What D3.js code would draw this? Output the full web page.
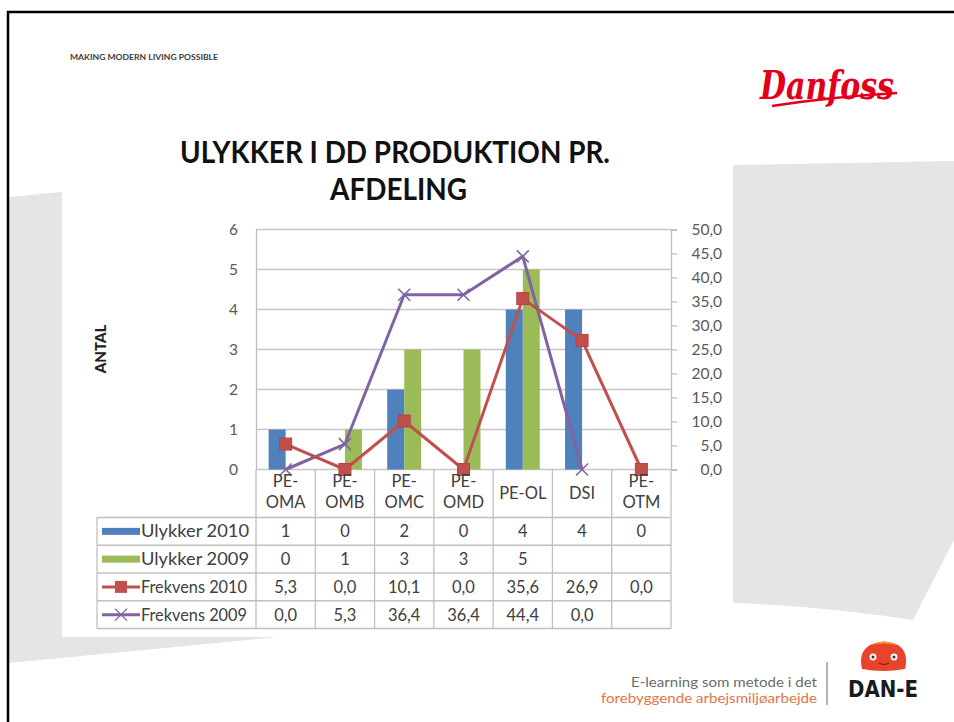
<!DOCTYPE html>
<html lang="da">
<head>
  <meta charset="UTF-8">
  <title>Ulykker i DD produktion pr. afdeling</title>
  <script src="https://d3js.org/d3.v7.min.js"></script>
  <style>
    body{margin:0;background:#fff}
    svg{display:block}
    .tbl{font-family:Lato,"Open Sans",sans-serif;fill:#404040}
    .grid{stroke:#c6c6c6;stroke-width:1.3}
    .cell{stroke:#c0c0c0;stroke-width:1.3}
  </style>
</head>
<body>
<div id="chart"></div>
<script>
/* --- data --- */
const categories=["PE-OMA","PE-OMB","PE-OMC","PE-OMD","PE-OL","DSI","PE-OTM"];
const ulykker2010=[1,0,2,0,4,4,0];
const ulykker2009=[0,1,3,3,5,null,null];
const frekvens2010=[5.3,0.0,10.1,0.0,35.6,26.9,0.0];
const frekvens2009=[0.0,5.3,36.4,36.4,44.4,0.0,null];
const leftTicks=[0,1,2,3,4,5,6];
const rightTicks=[0,5,10,15,20,25,30,35,40,45,50];
const seriesNames=["Ulykker 2010","Ulykker 2009","Frekvens 2010","Frekvens 2009"];

const W=954,H=722;
const col={blue:"#4f81bd",green:"#9bbb59",red:"#c0504d",purple:"#8064a2"};
const comma=v=>v.toFixed(1).replace(".",",");

const svg=d3.select("#chart").append("svg").attr("width",W).attr("height",H);

/* --- slide background --- */
svg.append("path").attr("fill","#e6e5e6")
   .attr("d","M9,197 L62,192 L62,637 L278,637 L9,663 Z");
svg.append("path").attr("fill","#e6e5e6")
   .attr("d","M733,165 L954,161 L954,540 L913,620 Q820,606 733,603 Z");
svg.append("path").attr("fill","none").attr("stroke","#000").attr("stroke-width",2.5)
   .attr("d","M8,722 L8,12 L954,12");

svg.append("text").attr("x",70).attr("y",60)
   .attr("font-family","Lato,sans-serif").attr("font-size",7.6).attr("font-weight",700)
   .attr("fill","#3a3a3a").attr("textLength",148).attr("lengthAdjust","spacingAndGlyphs")
   .text("MAKING MODERN LIVING POSSIBLE");

/* --- Danfoss logo --- */
const logo=svg.append("g");
logo.append("path").attr("fill","none").attr("stroke","#e2001a").attr("stroke-width",2.5)
    .attr("d","M772,106 Q830,97 897,93");
logo.append("text").attr("x",760).attr("y",99)
    .attr("font-family","'DejaVu Serif',serif").attr("font-style","italic").attr("font-weight",700)
    .attr("font-size",40).attr("fill","#e2001a")
    .attr("textLength",134).attr("lengthAdjust","spacingAndGlyphs").text("Danfoss");

/* --- title --- */
const title=svg.append("g").attr("font-family","Lato,sans-serif").attr("font-weight",700)
               .attr("font-size",31).attr("fill","#111");
title.append("text").attr("x",180).attr("y",163)
     .attr("textLength",430).attr("lengthAdjust","spacingAndGlyphs")
     .text("ULYKKER I DD PRODUKTION PR.");
title.append("text").attr("x",330).attr("y",200)
     .attr("textLength",137).attr("lengthAdjust","spacingAndGlyphs")
     .text("AFDELING");

/* --- scales --- */
const pL=256,pR=671,pT=229.5,pB=469.5;
const x=d3.scaleBand().domain(categories).range([pL,pR]);
const bw=x.bandwidth();
const xs=d3.scaleBand().domain(["2010","2009"]).range([bw/2-17,bw/2+17]);
const y=d3.scaleLinear().domain([0,6]).range([pB,pT]);
const y2=d3.scaleLinear().domain([0,50]).range([pB,pT]);
const cx=c=>x(c)+bw/2;

/* --- gridlines and axes --- */
svg.append("g").selectAll("line").data(leftTicks).join("line").attr("class","grid")
   .attr("x1",pL).attr("x2",pR).attr("y1",d=>y(d)).attr("y2",d=>y(d));

const yAxis=svg.append("g").attr("transform",`translate(${pL},0)`)
   .call(d3.axisLeft(y).tickValues(leftTicks).tickSize(0).tickPadding(18).tickFormat(d3.format("d")));
const y2Axis=svg.append("g").attr("transform",`translate(${pR},0)`)
   .call(d3.axisRight(y2).tickValues(rightTicks).tickSize(6).tickPadding(45).tickFormat(comma));
[yAxis,y2Axis].forEach(a=>{
  a.select(".domain").attr("stroke","#bdbdbd").attr("stroke-width",1.3);
  a.selectAll(".tick line").attr("stroke","#bdbdbd").attr("stroke-width",1.3);
  a.selectAll("text").attr("font-family","Lato,sans-serif").attr("font-size",15.5)
   .attr("fill","#595959");
});
y2Axis.selectAll("text").attr("text-anchor","end");

svg.append("text").attr("transform","translate(106,349) rotate(-90)")
   .attr("text-anchor","middle").attr("font-family","Lato,sans-serif")
   .attr("font-weight",900).attr("font-size",15).attr("fill","#222").text("ANTAL");

/* --- bars --- */
const bars=svg.append("g");
[[ulykker2010,"2010",col.blue],[ulykker2009,"2009",col.green]].forEach(([vals,k,c])=>{
  bars.append("g").selectAll("rect")
      .data(categories.map((cat,i)=>({cat,v:vals[i]})).filter(d=>d.v))
      .join("rect").attr("fill",c)
      .attr("x",d=>x(d.cat)+xs(k)).attr("width",xs.bandwidth())
      .attr("y",d=>y(d.v)).attr("height",d=>pB-y(d.v));
});

/* --- lines --- */
const line=d3.line().defined(d=>d.v!=null).x(d=>cx(d.cat)).y(d=>y2(d.v));
const f10=categories.map((cat,i)=>({cat,v:frekvens2010[i]}));
const f09=categories.map((cat,i)=>({cat,v:frekvens2009[i]}));

svg.append("path").datum(f09).attr("d",line).attr("fill","none")
   .attr("stroke",col.purple).attr("stroke-width",3).attr("stroke-linejoin","round");
svg.append("g").selectAll("path").data(f09.filter(d=>d.v!=null)).join("path")
   .attr("d",d=>{const px=cx(d.cat),py=y2(d.v),s=6;
     return `M${px-s},${py-s}L${px+s},${py+s}M${px-s},${py+s}L${px+s},${py-s}`;})
   .attr("stroke",col.purple).attr("stroke-width",1.6);

svg.append("path").datum(f10).attr("d",line).attr("fill","none")
   .attr("stroke",col.red).attr("stroke-width",3).attr("stroke-linejoin","round");
svg.append("g").selectAll("rect").data(f10).join("rect")
   .attr("x",d=>cx(d.cat)-6).attr("y",d=>y2(d.v)-6).attr("width",12).attr("height",12)
   .attr("fill",col.red).attr("stroke","#b9413e").attr("stroke-width",1);

/* --- data table --- */
const rowTop=517.5,rowH=27.75,tblLeft=97;
const tableRows=[ulykker2010,ulykker2009,frekvens2010,frekvens2009];
const cells=svg.append("g");
cells.append("g").selectAll("line").data(d3.range(5)).join("line").attr("class","cell")
     .attr("x1",tblLeft).attr("x2",pR)
     .attr("y1",i=>rowTop+i*rowH).attr("y2",i=>rowTop+i*rowH);
cells.append("g").selectAll("line").data(categories.concat([null])).join("line").attr("class","cell")
     .attr("x1",d=>d?x(d):pR).attr("x2",d=>d?x(d):pR)
     .attr("y1",pB).attr("y2",rowTop+4*rowH);
cells.append("line").attr("class","cell").attr("x1",tblLeft).attr("x2",tblLeft)
     .attr("y1",rowTop).attr("y2",rowTop+4*rowH);

const tbl=svg.append("g").attr("class","tbl");
categories.forEach(c=>{
  const parts=c.startsWith("PE-")&&c!=="PE-OL"?["PE-",c.slice(3)]:[c];
  parts.forEach((p,j)=>{
    tbl.append("text").attr("x",cx(c)).attr("text-anchor","middle").attr("font-size",16.5)
       .attr("y",parts.length===1?499:487+j*21).text(p);
  });
});

tableRows.forEach((vals,r)=>{
  const yc=rowTop+r*rowH+rowH/2;
  tbl.append("text").attr("x",141).attr("y",yc+6).attr("font-size",17.5)
     .attr("textLength",r<2?108:106).attr("lengthAdjust","spacingAndGlyphs").text(seriesNames[r]);
  tbl.append("g").selectAll("text").data(categories.map((c,i)=>({c,v:vals[i]}))).join("text")
     .attr("x",d=>cx(d.c)).attr("y",yc+6).attr("text-anchor","middle").attr("font-size",16.5)
     .text(d=>d.v==null?"":(r<2?String(d.v):comma(d.v)));
});

/* --- legend keys inside table --- */
const key=svg.append("g");
[col.blue,col.green].forEach((c,r)=>{
  key.append("rect").attr("x",102).attr("y",rowTop+r*rowH+rowH/2-3.5)
     .attr("width",38).attr("height",7).attr("fill",c);
});
const ky3=rowTop+2*rowH+rowH/2,ky4=rowTop+3*rowH+rowH/2;
key.append("line").attr("x1",102).attr("x2",140).attr("y1",ky3).attr("y2",ky3)
   .attr("stroke",col.red).attr("stroke-width",3);
key.append("rect").attr("x",115).attr("y",ky3-6).attr("width",12).attr("height",12).attr("fill",col.red);
key.append("line").attr("x1",102).attr("x2",140).attr("y1",ky4).attr("y2",ky4)
   .attr("stroke",col.purple).attr("stroke-width",3);
key.append("path").attr("d",`M115,${ky4-6}L127,${ky4+6}M115,${ky4+6}L127,${ky4-6}`)
   .attr("stroke",col.purple).attr("stroke-width",1.4);

/* --- footer --- */
const foot=svg.append("g").attr("font-family","Lato,sans-serif").attr("font-size",13.3)
              .attr("text-anchor","end");
foot.append("text").attr("x",817).attr("y",687).attr("fill","#6b6b6b")
    .attr("textLength",186).attr("lengthAdjust","spacingAndGlyphs").text("E-learning som metode i det");
foot.append("text").attr("x",817).attr("y",703).attr("fill","#e0764a")
    .attr("textLength",216).attr("lengthAdjust","spacingAndGlyphs").text("forebyggende arbejsmiljøarbejde");
svg.append("line").attr("x1",827).attr("x2",827).attr("y1",662).attr("y2",705)
   .attr("stroke","#9a9a9a").attr("stroke-width",1.5);

/* --- DAN-E mascot --- */
const dan=svg.append("g");
dan.append("path").attr("fill","#e8442c")
   .attr("d","M862,669 Q858,652 870,645 Q884,638 898,645 Q909,652 905,669 Q884,673 862,669 Z");
dan.append("path").attr("fill","#f29a3a").attr("d","M870,645 Q884,638 898,645 Q884,642 870,645 Z");
[873,894].forEach(ex=>{
  dan.append("circle").attr("cx",ex).attr("cy",657).attr("r",3.4).attr("fill","#fff");
  dan.append("circle").attr("cx",ex).attr("cy",657).attr("r",1.5).attr("fill","#333");
});
dan.append("path").attr("fill","none").attr("stroke","#8a1f12").attr("stroke-width",1.2)
   .attr("d","M879,663 Q884,666 889,663");
dan.append("text").attr("x",848).attr("y",697).attr("font-family","'DejaVu Sans',sans-serif")
   .attr("font-weight",700).attr("font-size",23).attr("fill","#1a1a1a")
   .attr("textLength",70).attr("lengthAdjust","spacingAndGlyphs").text("DAN-E");
</script>
</body>
</html>
